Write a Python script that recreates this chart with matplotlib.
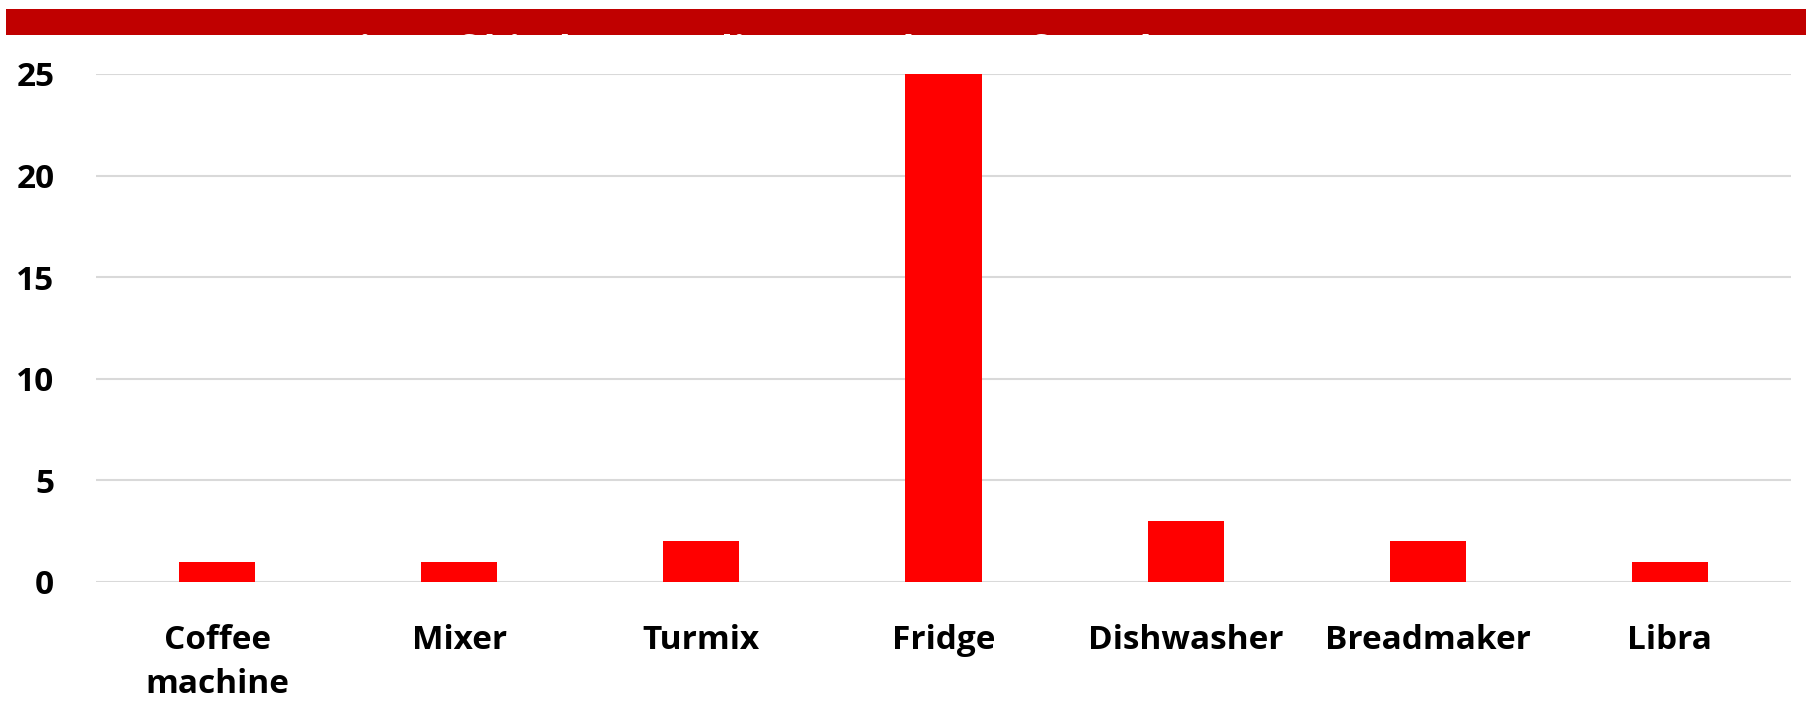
import matplotlib
matplotlib.use("Agg")
import matplotlib.pyplot as plt
from matplotlib.patches import Rectangle
import numpy as np

categories = ["Coffee\nmachine", "Mixer", "Turmix", "Fridge", "Dishwasher", "Breadmaker", "Libra"]
values = [1, 1, 2, 25, 3, 2, 1]
yticks = [0, 5, 10, 15, 20, 25]
title = "Energy consumption of kitchen appliances, share of total, %"

plt.rcParams['font.family'] = ['Open Sans', 'DejaVu Sans']

fig = plt.figure(figsize=(18.15, 7.01), dpi=100)
W, H = 1815, 701

# red title banner; the title itself is clipped to the banner strip
banner = Rectangle((6 / W, 1 - 35 / H), 1800 / W, 26 / H, transform=fig.transFigure,
                   facecolor="#c00000", edgecolor="none", zorder=1)
fig.patches.append(banner)
t = fig.text(12 / W, 1 - 64.3 / H, title, color="white", fontsize=29, fontweight="bold",
             ha="left", va="baseline", zorder=2)
t.set_clip_path(banner)

ax = fig.add_axes([96 / W, 1 - 582 / H, (1791 - 96) / W, (582 - 74) / H])
ax.set_zorder(4)
x = np.arange(len(categories))
ax.bar(x, values, width=0.315, color="#ff0000", zorder=3)
ax.set_xlim(-0.5, len(categories) - 0.5)
ax.set_ylim(0, 25)
ax.set_yticks(yticks)
ax.set_xticks(x)
ax.set_xticklabels(categories, fontsize=24, fontweight="bold", linespacing=1.45)
for lbl in ax.get_yticklabels():
    lbl.set_fontsize(24)
    lbl.set_fontweight("bold")
ax.tick_params(axis="both", length=0)
ax.tick_params(axis="y", pad=30)
ax.tick_params(axis="x", pad=30)
ax.grid(axis="y", color="#d9d9d9", linewidth=1.5, zorder=0)
for s in ax.spines.values():
    s.set_visible(False)

fig.savefig("out.png", dpi=100, facecolor="white")
